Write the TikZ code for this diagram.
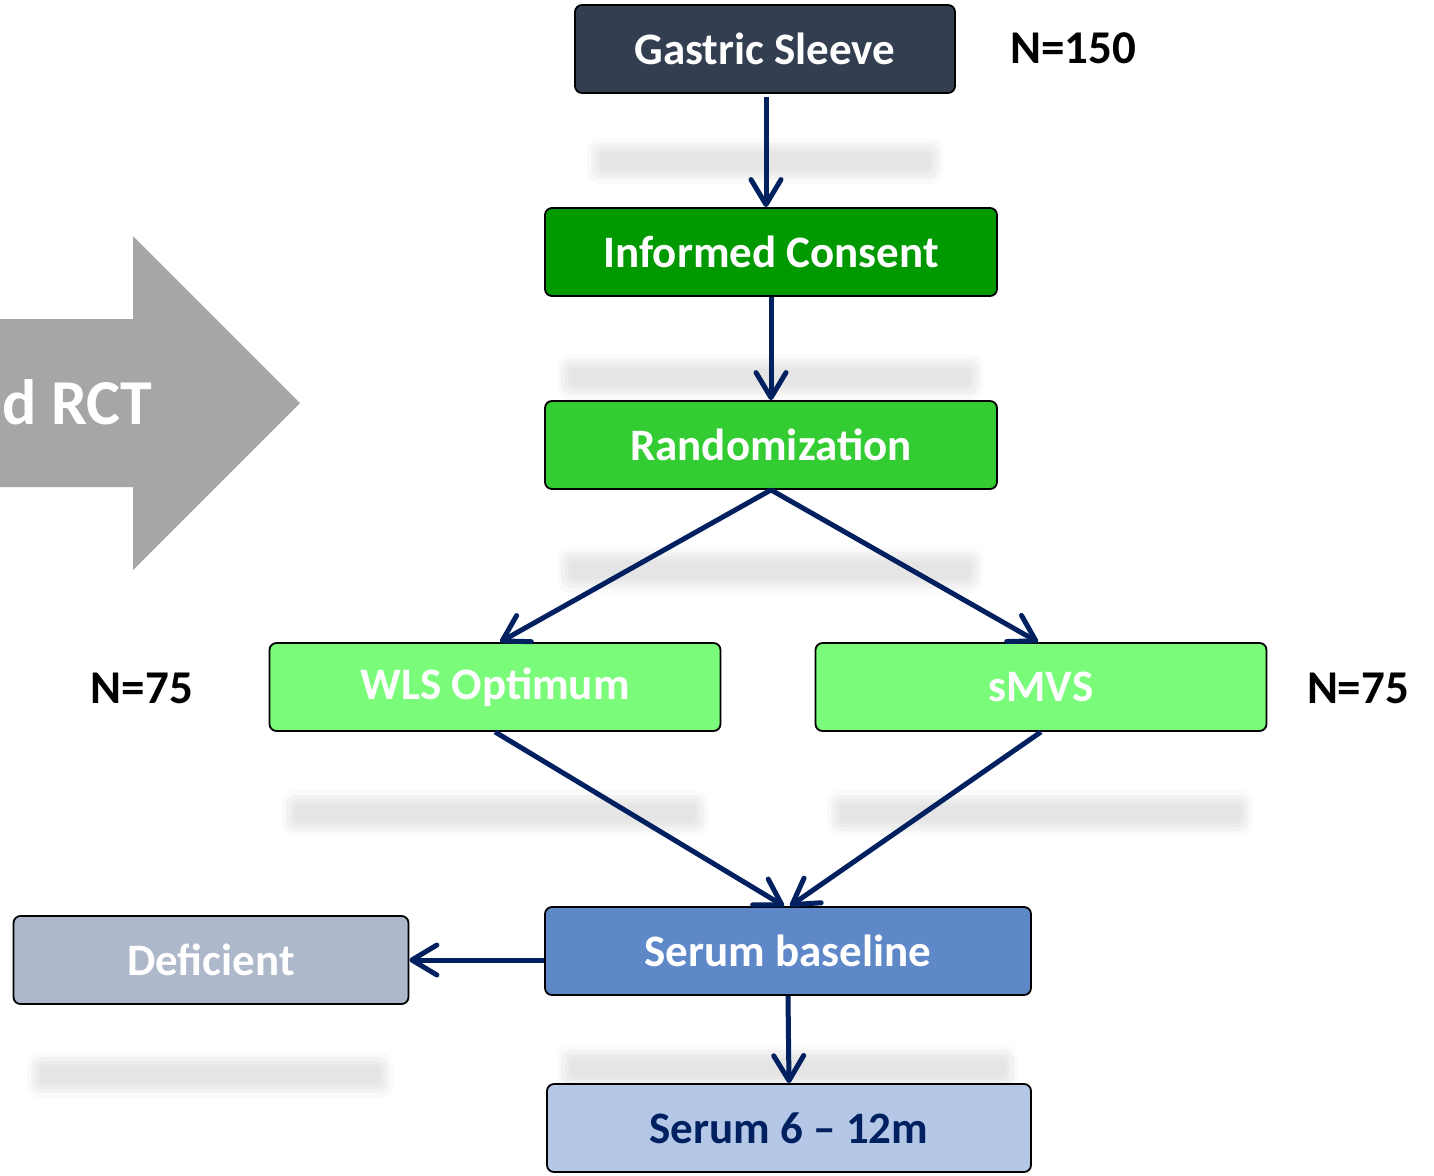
\documentclass[tikz,border=0pt]{standalone}
\usepackage{fontspec}
\setmainfont{Carlito}
\usetikzlibrary{arrows.meta}

\definecolor{slate}{HTML}{333F50}
\definecolor{darkgreen}{HTML}{009900}
\definecolor{midgreen}{HTML}{33CC33}
\definecolor{lightgreen}{HTML}{7AFC7A}
\definecolor{serumblue}{HTML}{5F88C9}
\definecolor{palegray}{HTML}{ADB9CA}
\definecolor{paleblue}{HTML}{B4C7E7}
\definecolor{navy}{HTML}{002060}
\definecolor{arrowgray}{HTML}{A6A6A6}

\begin{document}
\begin{tikzpicture}[x=1pt, y=-1pt,
  box/.style={draw=black, line width=1.8pt, rounded corners=7pt, text=white,
    minimum height=88pt, inner sep=0pt, font=\fontsize{45}{50}\selectfont\bfseries},
  count/.style={font=\fontsize{47}{52}\selectfont\bfseries, inner sep=0pt},
  flow/.style={draw=navy, line width=5pt, -{Straight Barb[round, length=25pt, width=30pt]}}]

\newcommand\haze[3]{%
\fill[black!2, rounded corners=13pt](#1-13, #3-23) rectangle (#2+13, #3+23);
\fill[black!5, rounded corners=10pt](#1-9, #3-18) rectangle (#2+9, #3+18);
\fill[black!7, rounded corners=8pt](#1-5, #3-14) rectangle (#2+5, #3+14);
\fill[black!9, rounded corners=6pt](#1-2, #3-11) rectangle (#2+2, #3+11);
\fill[black!10, rounded corners=5pt](#1, #3-8) rectangle (#2, #3+8);}

\useasboundingbox (0,0) rectangle (1434,1175);

%% side arrow
\fill[arrowgray](0,319) -- (133,319) -- (133,236) -- (300,403) -- (133,570)
-- (133,487) -- (0,487) -- cycle;
\node[anchor=base west, inner sep=0pt, text=white,
  font=\fontsize{64}{70}\selectfont\bfseries] (rct) at (2,424) {d RCT};

%% blurred lines
\haze{600}{930}{161}
\haze{570}{970}{377}
\haze{570}{970}{570}
\haze{295}{695}{813}
\haze{840}{1240}{813}
\haze{40}{380}{1075}
\haze{570}{1005}{1068}

%% boxes
\node[box, fill=slate, minimum width=380pt] (sleeve) at (765,49) {Gastric Sleeve};
\node[count] (ntotal) at (1073,48) {N=150};

\node[box, fill=darkgreen, minimum width=452pt] (consent) at (771,252) {Informed Consent};
\node[box, fill=midgreen, minimum width=452pt] (random) at (771,445) {Randomization};

\node[box, fill=lightgreen, minimum width=451pt] (wls) at (495,687) {WLS Optimum};
\node[box, fill=lightgreen, minimum width=451pt] (smvs) at (1041,687) {sMVS};
\node[count] (nleft) at (142,688) {N=75};
\node[count] (nright) at (1358,688) {N=75};

\node[box, fill=serumblue, minimum width=486pt] (baseline) at (788,951) {Serum baseline};
\node[box, fill=palegray, minimum width=395pt] (deficient) at (211,960) {Deficient};
\node[box, fill=paleblue, minimum width=484pt, text=navy] (followup) at (789,1128) {Serum 6 -- 12m};

%% arrows
\draw[flow, shorten <=3pt] ([xshift=1pt]sleeve.south) -- ([xshift=1pt]sleeve.south |- consent.north);
\draw[flow] (consent.south) -- (random.north);
\draw[flow] (random.south) -- ([xshift=5pt]wls.north);
\draw[flow] (random.south) -- ([xshift=-3pt]smvs.north);
\draw[flow] (wls.south) -- ([xshift=-4pt]baseline.north);
\draw[flow] (smvs.south) -- ([xshift=2pt]baseline.north);
\draw[flow] (deficient.east -| baseline.west) -- (deficient.east);
\draw[flow] (baseline.south) -- (followup.north);
\end{tikzpicture}
\end{document}
